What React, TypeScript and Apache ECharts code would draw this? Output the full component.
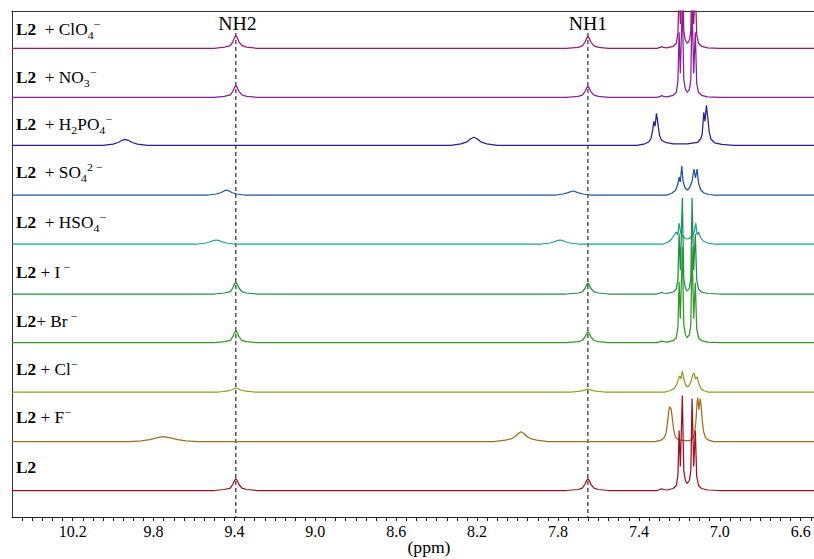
import React, { useEffect, useRef } from 'react';
import * as echarts from 'echarts';

type Pt = [number, number];

// ---------- data (ppm, intensity above each trace's baseline) ----------
const X_MAX = 10.5;
const X_MIN = 6.534;
const AXIS_LABEL_VALUES = [10.2, 9.8, 9.4, 9.0, 8.6, 8.2, 7.8, 7.4, 7.0, 6.6];
const NH_POSITIONS = [9.393, 7.652];
const NH_NAMES = ['NH2', 'NH1'];

const SPEC_L2: Pt[] = [
  [10.5, 0], [9.5, 0], [9.45, 1], [9.42, 2.4], [9.408, 6], [9.401, 9.4], [9.393, 12], [9.385, 9.4], [9.378, 6], [9.363, 2.4], [9.34, 1], [9.29, 0],
  [7.76, 0], [7.7, 1], [7.68, 2.4], [7.667, 6], [7.66, 9.4], [7.652, 12], [7.644, 9.4], [7.637, 6], [7.622, 2.4], [7.6, 1], [7.55, 0],
  [7.31, 0], [7.295, 1], [7.287, 1.6], [7.278, 1], [7.262, 0.5],
  [7.23, 2], [7.215, 5], [7.207, 15], [7.201, 60], [7.195, 24], [7.185, 95], [7.178, 20], [7.17, 10], [7.161, 7], [7.15, 10], [7.143, 20],
  [7.137, 92], [7.129, 24], [7.121, 60], [7.114, 14], [7.105, 5], [7.09, 2], [7.06, 0.5], [7.0, 0], [6.534, 0],
];

const SPEC_F: Pt[] = [
  [10.5, 0], [9.92, 0], [9.86, 0.8], [9.82, 2], [9.79, 3.5], [9.77, 4.6], [9.753, 5], [9.735, 4.6], [9.71, 3.5], [9.68, 2], [9.64, 0.8], [9.58, 0],
  [8.12, 0], [8.06, 1.5], [8.03, 3], [8.01, 5.5], [7.995, 8.5], [7.983, 10], [7.97, 8.5], [7.955, 5.5], [7.935, 3], [7.905, 1.5], [7.85, 0],
  [7.32, 0], [7.29, 1.5], [7.275, 4], [7.265, 9], [7.258, 20], [7.252, 31], [7.247, 35], [7.241, 33], [7.235, 24], [7.228, 12], [7.22, 5],
  [7.205, 2], [7.18, 1], [7.15, 1], [7.135, 3], [7.125, 8], [7.118, 20], [7.112, 40], [7.109, 44], [7.103, 32], [7.097, 43], [7.093, 38],
  [7.087, 22], [7.08, 10], [7.07, 4], [7.055, 1.5], [7.03, 0], [6.534, 0],
];

const SPEC_CL: Pt[] = [
  [10.5, 0], [9.48, 0], [9.44, 0.8], [9.415, 2], [9.4, 3.5], [9.393, 4], [9.386, 3.5], [9.37, 2], [9.345, 0.8], [9.3, 0],
  [7.73, 0], [7.69, 0.8], [7.668, 1.8], [7.658, 2.7], [7.652, 3], [7.646, 2.7], [7.636, 1.8], [7.614, 0.8], [7.57, 0],
  [7.27, 0], [7.245, 1.5], [7.225, 3.5], [7.212, 8], [7.204, 13], [7.198, 16], [7.192, 13], [7.185, 21], [7.178, 13], [7.168, 7], [7.16, 5],
  [7.15, 7], [7.14, 12], [7.134, 17], [7.127, 19], [7.12, 13], [7.112, 15], [7.104, 9], [7.095, 4], [7.08, 1.5], [7.06, 0], [6.534, 0],
];

const SPEC_BR: Pt[] = [
  [10.5, 0], [9.5, 0], [9.45, 1], [9.42, 2.4], [9.408, 6], [9.401, 9.4], [9.393, 12], [9.385, 9.4], [9.378, 6], [9.363, 2.4], [9.34, 1], [9.29, 0],
  [7.76, 0], [7.7, 1], [7.68, 2.2], [7.667, 5.5], [7.66, 8.6], [7.652, 11], [7.644, 8.6], [7.637, 5.5], [7.622, 2.2], [7.6, 1], [7.55, 0],
  [7.31, 0], [7.295, 1], [7.287, 1.6], [7.278, 1], [7.262, 0.5],
  [7.23, 2], [7.215, 5], [7.207, 15], [7.201, 61], [7.195, 24], [7.185, 96], [7.178, 18], [7.17, 8], [7.161, 5], [7.15, 8], [7.143, 18],
  [7.137, 96], [7.129, 24], [7.121, 60], [7.114, 14], [7.105, 5], [7.09, 2], [7.06, 0.5], [7.0, 0], [6.534, 0],
];

const SPEC_I: Pt[] = [
  [10.5, 0], [9.5, 0], [9.45, 1], [9.42, 2.4], [9.408, 6], [9.401, 9.4], [9.393, 12], [9.385, 9.4], [9.378, 6], [9.363, 2.4], [9.34, 1], [9.29, 0],
  [7.76, 0], [7.7, 1], [7.68, 2.2], [7.667, 5.5], [7.66, 8.6], [7.652, 11], [7.644, 8.6], [7.637, 5.5], [7.622, 2.2], [7.6, 1], [7.55, 0],
  [7.31, 0], [7.295, 1], [7.287, 1.6], [7.278, 1], [7.262, 0.5],
  [7.23, 2], [7.215, 5], [7.207, 15], [7.201, 60], [7.195, 24], [7.185, 96], [7.178, 16], [7.17, 6], [7.161, 3], [7.15, 6], [7.143, 16],
  [7.137, 96], [7.129, 24], [7.121, 60], [7.114, 14], [7.105, 5], [7.09, 2], [7.06, 0.5], [7.0, 0], [6.534, 0],
];

const SPEC_HSO4: Pt[] = [
  [10.5, 0], [9.58, 0], [9.54, 1], [9.515, 2.5], [9.5, 3.6], [9.49, 4], [9.48, 3.6], [9.465, 2.5], [9.44, 1], [9.4, 0],
  [7.88, 0], [7.84, 1], [7.815, 2.5], [7.8, 3.6], [7.791, 4], [7.782, 3.6], [7.767, 2.5], [7.742, 1], [7.7, 0],
  [7.28, 0], [7.255, 2], [7.238, 5], [7.225, 9], [7.214, 12], [7.208, 9], [7.201, 21], [7.194, 12], [7.184, 8], [7.17, 5.5], [7.16, 5],
  [7.15, 5.5], [7.136, 8], [7.126, 12], [7.119, 21], [7.112, 9], [7.105, 12], [7.096, 7], [7.082, 3], [7.06, 1], [7.03, 0], [6.534, 0],
];

const SPEC_SO4: Pt[] = [
  [10.5, 0], [9.53, 0], [9.49, 1], [9.465, 2.5], [9.449, 4.3], [9.439, 5], [9.429, 4.3], [9.413, 2.5], [9.388, 1], [9.35, 0],
  [7.81, 0], [7.775, 1], [7.75, 2.3], [7.735, 3.5], [7.726, 4], [7.717, 3.5], [7.702, 2.3], [7.677, 1], [7.64, 0],
  [7.26, 0], [7.235, 2], [7.218, 5], [7.207, 11], [7.201, 18], [7.195, 13], [7.188, 29], [7.181, 13], [7.171, 7], [7.16, 5], [7.15, 7],
  [7.138, 13], [7.127, 26], [7.12, 17], [7.112, 26], [7.105, 12], [7.094, 5], [7.078, 2], [7.055, 0.5], [7.03, 0], [6.534, 0],
];

const SPEC_H2PO4: Pt[] = [
  [10.5, 0], [10.05, 0], [10.0, 1.2], [9.975, 2.8], [9.955, 5], [9.941, 6], [9.925, 5], [9.905, 2.8], [9.88, 1.2], [9.83, 0],
  [8.33, 0], [8.28, 1.5], [8.25, 3.5], [8.232, 6.5], [8.216, 8], [8.2, 6.5], [8.182, 3.5], [8.152, 1.5], [8.1, 0],
  [7.41, 0], [7.37, 1.5], [7.35, 3.5], [7.34, 7], [7.332, 15], [7.326, 24], [7.32, 19], [7.313, 32], [7.306, 22], [7.298, 10], [7.288, 5],
  [7.27, 3], [7.23, 1.5], [7.16, 1.5], [7.11, 3], [7.095, 6], [7.087, 11], [7.079, 33], [7.073, 24], [7.066, 40], [7.059, 27], [7.052, 13],
  [7.043, 6], [7.025, 2.5], [6.99, 1], [6.93, 0], [6.534, 0],
];

const SPEC_NO3: Pt[] = [
  [10.5, 0], [9.5, 0], [9.45, 1], [9.42, 2.4], [9.408, 6], [9.401, 9.4], [9.393, 12], [9.385, 9.4], [9.378, 6], [9.363, 2.4], [9.34, 1], [9.29, 0],
  [7.76, 0], [7.7, 1], [7.68, 2.2], [7.667, 5.5], [7.66, 8.6], [7.652, 11], [7.644, 8.6], [7.637, 5.5], [7.622, 2.2], [7.6, 1], [7.55, 0],
  [7.31, 0], [7.295, 1], [7.287, 1.6], [7.278, 1], [7.262, 0.5],
  [7.23, 2], [7.215, 5], [7.207, 16], [7.201, 65], [7.195, 24], [7.185, 96], [7.178, 18], [7.17, 8], [7.161, 5], [7.15, 8], [7.143, 18],
  [7.137, 96], [7.129, 24], [7.121, 65], [7.114, 14], [7.105, 5], [7.09, 2], [7.06, 0.5], [7.0, 0], [6.534, 0],
];

const SPEC_CLO4: Pt[] = [
  [10.5, 0], [9.5, 0], [9.45, 1.1], [9.42, 2.6], [9.408, 6.5], [9.401, 10.2], [9.393, 13], [9.385, 10.2], [9.378, 6.5], [9.363, 2.6], [9.34, 1.1], [9.29, 0],
  [7.76, 0], [7.7, 1], [7.68, 2.4], [7.667, 6], [7.66, 9.4], [7.652, 12], [7.644, 9.4], [7.637, 6], [7.622, 2.4], [7.6, 1], [7.55, 0],
  [7.31, 0], [7.295, 1], [7.287, 1.6], [7.278, 1], [7.262, 0.5],
  [7.23, 2], [7.215, 5], [7.207, 15], [7.201, 62], [7.195, 24], [7.185, 95], [7.178, 18], [7.17, 8], [7.161, 5], [7.15, 8], [7.143, 18],
  [7.137, 95], [7.129, 24], [7.121, 62], [7.114, 14], [7.105, 5], [7.09, 2], [7.06, 0.5], [7.0, 0], [6.534, 0],
];

// bottom to top
const SPECTRA: Pt[][] = [SPEC_L2, SPEC_F, SPEC_CL, SPEC_BR, SPEC_I, SPEC_HSO4, SPEC_SO4, SPEC_H2PO4, SPEC_NO3, SPEC_CLO4];
const SPECTRUM_NAMES = ['L2', 'L2 + F−', 'L2 + Cl−', 'L2 + Br−', 'L2 + I−', 'L2 + HSO4−', 'L2 + SO42−', 'L2 + H2PO4−', 'L2 + NO3−', 'L2 + ClO4−'];
const LABEL_PARTS: [string, string][][] = [
  [['b', 'L2']],
  [['b', 'L2'], ['n', '\u00a0+ F'], ['sup', '\u2212']],
  [['b', 'L2'], ['n', '\u00a0+ Cl'], ['sup', '\u2212']],
  [['b', 'L2'], ['n', '+ Br'], ['sup', '\u00a0\u2212']],
  [['b', 'L2'], ['n', '\u00a0+ I'], ['sup', '\u00a0\u2212']],
  [['b', 'L2'], ['n', '\u00a0\u00a0+ HSO'], ['sub', '4'], ['sup', '\u2212']],
  [['b', 'L2'], ['n', '\u00a0\u00a0+ SO'], ['sub', '4'], ['sup', '2\u00a0\u2212']],
  [['b', 'L2'], ['n', '\u00a0\u00a0+ H'], ['sub', '2'], ['n', 'PO'], ['sub', '4'], ['sup', '\u2212']],
  [['b', 'L2'], ['n', '\u00a0\u00a0+ NO'], ['sub', '3'], ['sup', '\u2212']],
  [['b', 'L2'], ['n', '\u00a0\u00a0+ ClO'], ['sub', '4'], ['sup', '\u2212']],
];

// ---------- layout / style ----------
const COLORS = ['#9e1024', '#a36d1c', '#8c9e22', '#2f9a22', '#1a9048', '#1f9e9e', '#2152a0', '#2a1d96', '#8a1c9e', '#9c1a6a'];
const STACK_OFFSETS = [26.5, 75.3, 125, 174.3, 223, 273, 322, 371.7, 419.7, 468.7];
const LABEL_Y = [468, 418, 370, 321.7, 272.7, 223, 173, 125, 78, 29.3];
const Y_MAX = 506;
const DASH_TOP = 484;
const FONT = '"Liberation Serif", "Times New Roman", serif';

export default function App() {
  const ref = useRef<HTMLDivElement>(null);
  useEffect(() => {
    if (!ref.current) return;
    const chart = echarts.init(ref.current, null, { renderer: 'svg' });

    const tickValues: number[] = [];
    for (let k = 131; k <= 209; k++) tickValues.push(Math.round(k * 5) / 100);

    const spectraSeries = SPECTRA.map((spec, i) => ({
      name: SPECTRUM_NAMES[i],
      type: 'line',
      data: spec.map(([x, y]) => [x, y + STACK_OFFSETS[i]]),
      showSymbol: false,
      symbol: 'none',
      clip: true,
      silent: true,
      z: 10 - i,
      lineStyle: { color: COLORS[i], width: 1.25 },
    })).reverse();

    const dashSeries = NH_POSITIONS.map((p, i) => ({
      name: NH_NAMES[i],
      type: 'line',
      data: [[p, DASH_TOP], [p, 0]],
      showSymbol: false,
      symbol: 'none',
      silent: true,
      z: 1,
      lineStyle: { color: '#000', width: 1, type: [4, 3] },
    }));

    const rich = {
      b: { fontFamily: FONT, fontSize: 16, fontWeight: 'bold', lineHeight: 22, fill: '#000' },
      n: { fontFamily: FONT, fontSize: 16, lineHeight: 22, fill: '#000' },
      sub: { fontFamily: FONT, fontSize: 11, lineHeight: 11, verticalAlign: 'bottom', fill: '#000' },
      sup: { fontFamily: FONT, fontSize: 11, lineHeight: 11, verticalAlign: 'top', fill: '#000' },
    };

    const labelGraphics = LABEL_PARTS.map((parts, i) => ({
      type: 'text',
      x: 16,
      y: LABEL_Y[i],
      scaleX: 1.08,
      silent: true,
      style: {
        text: parts.map(([s, t]) => `{${s}|${t}}`).join(''),
        rich,
        verticalAlign: 'middle',
        align: 'left',
        fill: '#000',
        font: `16px ${FONT}`,
      },
    }));

    const nhGraphics = [
      { type: 'text', x: 237.5, y: 23.5, scaleX: 1.1, silent: true, style: { text: NH_NAMES[0], font: `18px ${FONT}`, fill: '#000', align: 'center', verticalAlign: 'middle' } },
      { type: 'text', x: 588, y: 23.5, scaleX: 1.1, silent: true, style: { text: NH_NAMES[1], font: `18px ${FONT}`, fill: '#000', align: 'center', verticalAlign: 'middle' } },
      { type: 'text', x: 429, y: 548, scaleX: 1.1, silent: true, style: { text: '(ppm)', font: `16px ${FONT}`, fill: '#000', align: 'center', verticalAlign: 'middle' } },
    ];

    chart.setOption({
      animation: false,
      backgroundColor: '#fff',
      grid: { left: 12, right: 0, top: 11, bottom: 42, containLabel: false },
      xAxis: [
        {
          type: 'value',
          min: X_MIN,
          max: X_MAX,
          inverse: true,
          position: 'bottom',
          axisLine: { show: true, onZero: false, lineStyle: { color: '#222', width: 1 } },
          axisTick: { show: true, inside: false, length: 4, customValues: tickValues, lineStyle: { color: '#222' } },
          axisLabel: {
            show: true,
            customValues: AXIS_LABEL_VALUES,
            formatter: (v: number) => v.toFixed(1),
            fontFamily: FONT,
            fontSize: 16,
            color: '#000',
            margin: 6,
          },
          splitLine: { show: false },
        },
        {
          type: 'value',
          min: X_MIN,
          max: X_MAX,
          inverse: true,
          position: 'top',
          axisLine: { show: true, onZero: false, lineStyle: { color: '#333', width: 1 } },
          axisTick: { show: false },
          axisLabel: { show: false },
          splitLine: { show: false },
        },
      ],
      yAxis: {
        type: 'value',
        min: 0,
        max: Y_MAX,
        axisLine: { show: true, onZero: false, lineStyle: { color: '#333', width: 1 } },
        axisTick: { show: false },
        axisLabel: { show: false },
        splitLine: { show: false },
      },
      series: [...dashSeries, ...spectraSeries],
      graphic: [...labelGraphics, ...nhGraphics],
    });

    return () => chart.dispose();
  }, []);

  return (
    <div
      ref={ref}
      style={{ position: 'fixed', left: 0, top: 0, width: 814, height: 559, background: '#fff' }}
    />
  );
}
